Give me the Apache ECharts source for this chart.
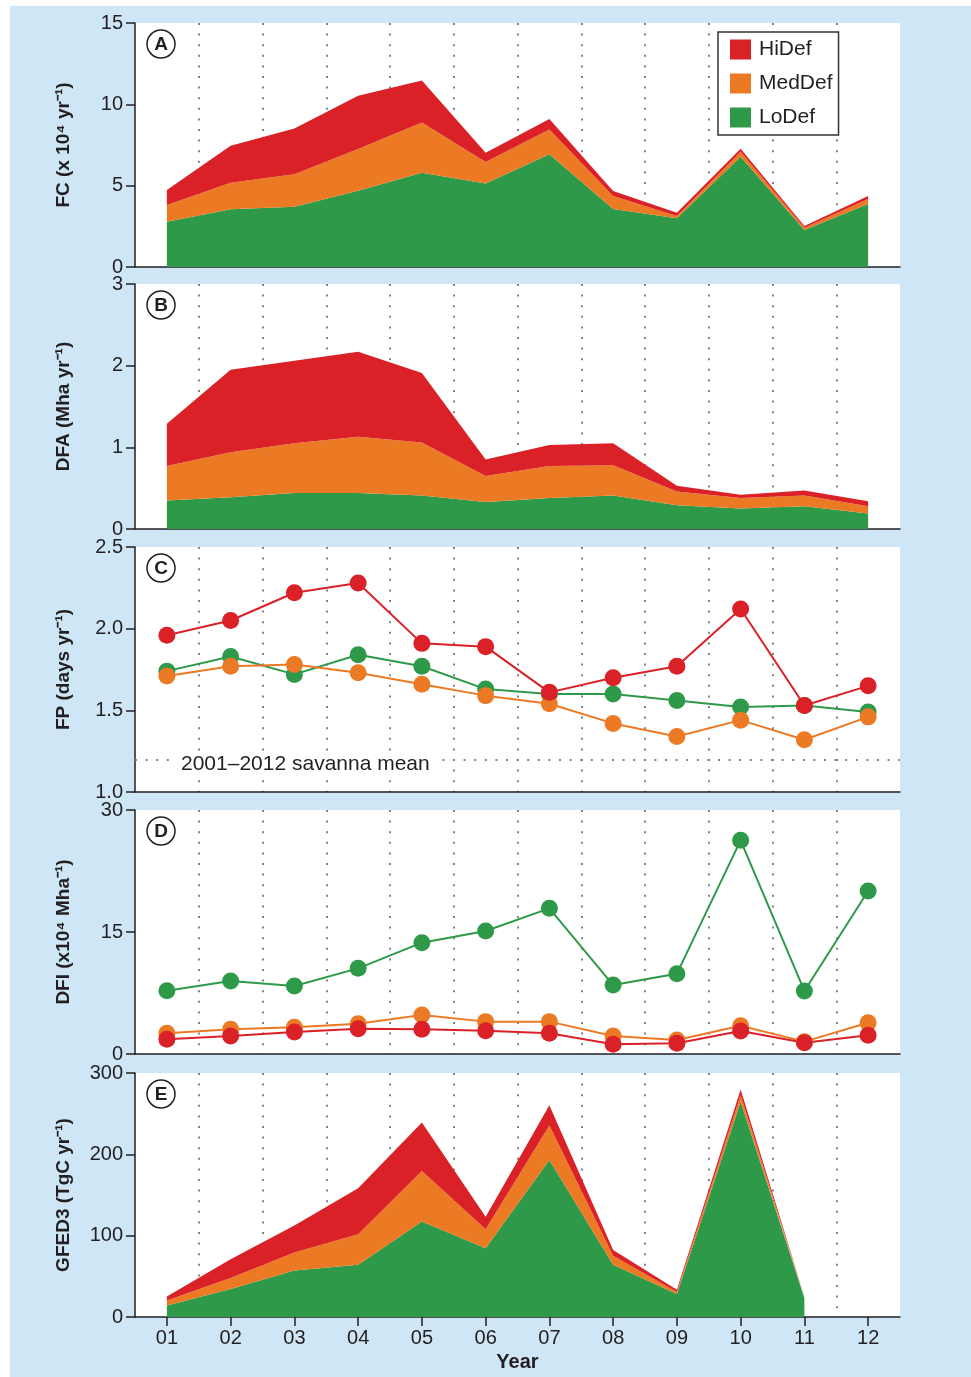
<!DOCTYPE html>
<html>
<head>
<meta charset="utf-8">
<script src="https://cdn.jsdelivr.net/npm/echarts@6/dist/echarts.min.js"></script>
<style>
html, body { margin: 0; padding: 0; background: #fff; }
#bg { position: absolute; left: 10px; top: 6px; width: 961px; height: 1371px; background: #cfe6f6; }
#main { position: absolute; left: 0; top: 0; width: 971px; height: 1377px; }
</style>
</head>
<body>
<div id="bg"></div>
<div id="main"></div>
<script>
var years = ['01', '02', '03', '04', '05', '06', '07', '08', '09', '10', '11', '12'];
var classes = ['LoDef', 'MedDef', 'HiDef'];
var legendOrder = ['HiDef', 'MedDef', 'LoDef'];
var classColors = { HiDef: '#da2128', MedDef: '#ec7a24', LoDef: '#2e9a49' };

// A: fire count (stacked)
var fcLo  = [2.78, 3.55, 3.71, 4.69, 5.80, 5.14, 6.93, 3.56, 2.99, 6.78, 2.27, 3.87];
var fcMed = [1.03, 1.63, 1.99, 2.56, 3.09, 1.31, 1.53, 0.80, 0.14, 0.31, 0.15, 0.31];
var fcHi  = [0.92, 2.28, 2.82, 3.28, 2.58, 0.58, 0.64, 0.31, 0.21, 0.18, 0.10, 0.18];

// B: deforested area (stacked)
var dfaLo  = [0.35, 0.39, 0.44, 0.44, 0.41, 0.33, 0.38, 0.41, 0.29, 0.25, 0.28, 0.19];
var dfaMed = [0.42, 0.55, 0.61, 0.69, 0.65, 0.32, 0.39, 0.37, 0.17, 0.13, 0.13, 0.09];
var dfaHi  = [0.52, 1.01, 1.01, 1.04, 0.85, 0.20, 0.26, 0.27, 0.07, 0.04, 0.06, 0.06];

// C: fire persistence
var fpLo  = [1.74, 1.83, 1.72, 1.84, 1.77, 1.63, 1.60, 1.60, 1.56, 1.52, 1.53, 1.49];
var fpMed = [1.71, 1.77, 1.78, 1.73, 1.66, 1.59, 1.54, 1.42, 1.34, 1.44, 1.32, 1.46];
var fpHi  = [1.96, 2.05, 2.22, 2.28, 1.91, 1.89, 1.61, 1.70, 1.77, 2.12, 1.53, 1.65];
var savannaMean = 1.2;

// D: deforestation fire intensity
var dfiLo  = [7.78, 8.98, 8.36, 10.53, 13.69, 15.12, 17.91, 8.48, 9.88, 26.27, 7.75, 20.04];
var dfiMed = [2.54, 3.03, 3.28, 3.73, 4.80, 3.98, 3.98, 2.21, 1.72, 3.48, 1.52, 3.85];
var dfiHi  = [1.80, 2.21, 2.70, 3.11, 3.03, 2.87, 2.54, 1.19, 1.31, 2.83, 1.39, 2.30];

// E: GFED3 emissions (stacked), no 2012 value
var gfedLo  = [14.2, 34.3, 57.2, 64.1, 117.3, 84.6, 192.9, 64.1, 28.2, 264.5, 23.3, null];
var gfedMed = [6.2, 13.5, 22.0, 37.7, 62.1, 23.3, 42.6, 11.1, 2.5, 8.2, 1.0, null];
var gfedHi  = [4.9, 23.3, 33.2, 56.4, 59.8, 15.5, 24.9, 7.3, 2.8, 7.0, 0.8, null];

var panelLetters = ['A', 'B', 'C', 'D', 'E'];
var yNames = ['FC (x 10⁴ yr⁻¹)', 'DFA (Mha yr⁻¹)', 'FP (days yr⁻¹)', 'DFI (x10⁴ Mha⁻¹)', 'GFED3 (TgC yr⁻¹)'];
var yMin = [0, 0, 1.0, 0, 0];
var yMax = [15, 3, 2.5, 30, 300];
var yStep = [5, 1, 0.5, 15, 100];

var FONT = '"Liberation Sans", Arial, Helvetica, sans-serif';
var INK = '#231f20';
var DOTS = { color: '#828282', width: 2, type: [2, 8.6] };
var gridTops = [23, 284, 547, 810, 1073];
var gridHeights = [244, 245, 245, 244, 244];

var chart = echarts.init(document.getElementById('main'));

var grids = [], xAxes = [], yAxes = [], series = [], graphics = [];

gridTops.forEach(function (top, i) {
    var last = i === 4;
    grids.push({
        left: 135, width: 765, top: top, height: gridHeights[i],
        show: true, backgroundColor: '#fff', borderWidth: 0
    });
    xAxes.push({
        type: 'category', gridIndex: i, data: years, boundaryGap: true,
        name: last ? 'Year' : '', nameLocation: 'middle', nameGap: 35,
        nameTextStyle: { fontFamily: FONT, fontWeight: 'bold', fontSize: 20, color: INK },
        axisLine: { show: true, lineStyle: { color: INK, width: 1.5 } },
        axisTick: { show: last, alignWithLabel: true, length: 9, interval: 0, lineStyle: { color: INK, width: 1.5 } },
        axisLabel: { show: last, interval: 0, margin: 11, fontFamily: FONT, fontSize: 20, color: INK },
        splitLine: {
            show: true, interval: 0, showMinLine: false, showMaxLine: false,
            lineStyle: DOTS
        }
    });
    yAxes.push({
        type: 'value', gridIndex: i, min: yMin[i], max: yMax[i], interval: yStep[i],
        name: yNames[i], nameLocation: 'middle', nameGap: 62, nameRotate: 90,
        nameTextStyle: { fontFamily: FONT, fontWeight: 'bold', fontSize: 19, color: INK },
        axisLine: { show: true, lineStyle: { color: INK, width: 1.5 } },
        axisTick: { show: true, length: 9, lineStyle: { color: INK, width: 1.5 } },
        axisLabel: {
            margin: 12, fontFamily: FONT, fontSize: 20, color: INK,
            formatter: i === 2 ? function (v) { return v.toFixed(1); } : null
        },
        splitLine: { show: false }
    });
    var cy = top + 21;
    graphics.push({
        type: 'circle', shape: { cx: 161, cy: cy, r: 14 }, z: 100,
        style: { fill: '#fff', stroke: INK, lineWidth: 1.5 }
    });
    graphics.push({
        type: 'text', z: 101,
        style: { text: panelLetters[i], x: 161, y: cy + 1, align: 'center', verticalAlign: 'middle',
                 font: 'bold 19px ' + FONT, fill: INK }
    });
});

function areaSeries(idx, name, data) {
    return {
        name: name, type: 'line', xAxisIndex: idx, yAxisIndex: idx, stack: 'p' + idx,
        data: data, symbol: 'none', smooth: false, color: classColors[name],
        lineStyle: { width: 0 }, areaStyle: { opacity: 1, color: classColors[name] },
        emphasis: { disabled: true }
    };
}

function dotSeries(idx, name, data) {
    return {
        name: name, type: 'line', xAxisIndex: idx, yAxisIndex: idx,
        data: data, symbol: 'circle', symbolSize: 17, color: classColors[name],
        lineStyle: { width: 2, color: classColors[name] }, itemStyle: { color: classColors[name] },
        emphasis: { disabled: true }
    };
}

var areaPanels = [[0, fcLo, fcMed, fcHi], [1, dfaLo, dfaMed, dfaHi], [4, gfedLo, gfedMed, gfedHi]];
areaPanels.forEach(function (p) {
    classes.forEach(function (c, k) { series.push(areaSeries(p[0], c, p[k + 1])); });
});

var dotPanels = [[2, fpLo, fpMed, fpHi], [3, dfiLo, dfiMed, dfiHi]];
dotPanels.forEach(function (p) {
    classes.forEach(function (c, k) { series.push(dotSeries(p[0], c, p[k + 1])); });
});

// savanna mean reference line in panel C
series.push({
    type: 'line', xAxisIndex: 2, yAxisIndex: 2, data: [], silent: true,
    markLine: {
        silent: true, symbol: 'none', label: { show: false },
        lineStyle: DOTS,
        data: [{ yAxis: savannaMean }]
    }
});
graphics.push({
    type: 'text', z: 100,
    style: { text: '2001–2012 savanna mean', x: 177, y: 764, align: 'left', verticalAlign: 'middle',
             font: '21px ' + FONT, fill: INK, backgroundColor: '#fff', padding: [2, 4] }
});

option = {
    animation: false,
    backgroundColor: 'transparent',
    textStyle: { fontFamily: FONT },
    grid: grids,
    xAxis: xAxes,
    yAxis: yAxes,
    legend: {
        data: legendOrder, orient: 'vertical', left: 718, top: 32,
        icon: 'rect', itemWidth: 21, itemHeight: 20, itemGap: 13,
        padding: [7, 6, 7, 12], backgroundColor: '#fff',
        borderColor: '#333', borderWidth: 1.5, borderRadius: 0,
        selectedMode: false,
        textStyle: { fontFamily: FONT, fontSize: 21, color: INK, lineHeight: 20, padding: [0, 0, 0, 3] }
    },
    graphic: graphics,
    series: series
};

if (option && typeof option === 'object') {
    chart.setOption(option);
}
</script>
</body>
</html>
